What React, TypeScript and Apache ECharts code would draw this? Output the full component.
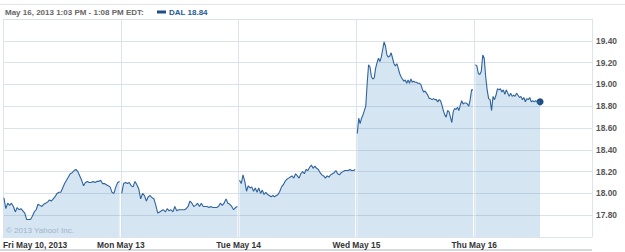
import React, { useEffect, useRef } from "react";
import * as echarts from "echarts";

// Trading minutes per day (9:30 - 16:00)
const DAY_MINUTES = 390;
const dayLabels = ["Fri May 10, 2013", "Mon May 13", "Tue May 14", "Wed May 15", "Thu May 16"];
const yTicks = ["17.80", "18.00", "18.20", "18.40", "18.60", "18.80", "19.00", "19.20", "19.40"];
const headerText = "May 16, 2013 1:03 PM - 1:08 PM EDT:";
const legendText = "DAL 18.84";
const watermark = "\u00a9 2013 Yahoo! Inc.";

// Minute of the day at which each day's trace starts / ends
const dayStartMin = [3, 3, 3, 3, 4];
const dayEndMin = [386, 386, 386, 386, 218];

const fri = [17.96, 17.86, 17.91, 17.89, 17.91, 17.88, 17.83, 17.87, 17.85, 17.86, 17.84, 17.82, 17.76, 17.76, 17.76, 17.79, 17.83, 17.85, 17.90, 17.89, 17.88, 17.90, 17.91, 17.92, 17.94, 17.93, 17.95, 17.97, 18.00, 18.01, 18.01, 18.05, 18.09, 18.12, 18.15, 18.18, 18.19, 18.21, 18.22, 18.20, 18.16, 18.12, 18.07, 18.10, 18.11, 18.10, 18.10, 18.11, 18.10, 18.11, 18.11, 18.12, 18.09, 18.09, 18.08, 18.07, 18.06, 18.01, 18.00, 18.06, 18.10, 18.11];
const mon = [18.00, 18.09, 18.10, 18.09, 18.10, 18.07, 18.06, 18.11, 18.08, 18.04, 17.95, 18.00, 17.98, 17.93, 17.97, 17.98, 17.96, 17.95, 17.89, 17.82, 17.83, 17.84, 17.85, 17.83, 17.86, 17.84, 17.85, 17.83, 17.88, 17.84, 17.85, 17.85, 17.85, 17.85, 17.86, 17.88, 17.93, 17.91, 17.88, 17.89, 17.91, 17.88, 17.91, 17.88, 17.88, 17.88, 17.87, 17.88, 17.87, 17.87, 17.87, 17.88, 17.91, 17.89, 17.91, 17.95, 17.91, 17.90, 17.88, 17.85, 17.87, 17.88];
const tue = [18.12, 18.09, 18.17, 18.11, 18.02, 18.07, 18.05, 18.06, 18.02, 18.05, 18.01, 18.05, 18.00, 18.03, 17.99, 18.01, 17.99, 17.98, 17.97, 17.98, 17.97, 17.98, 17.99, 18.02, 18.06, 18.08, 18.11, 18.13, 18.14, 18.15, 18.16, 18.14, 18.18, 18.16, 18.14, 18.18, 18.20, 18.18, 18.22, 18.21, 18.24, 18.26, 18.23, 18.25, 18.23, 18.22, 18.19, 18.17, 18.16, 18.14, 18.16, 18.15, 18.17, 18.18, 18.19, 18.21, 18.18, 18.17, 18.19, 18.20, 18.21, 18.21, 18.21, 18.22, 18.21, 18.21, 18.22];
const wed = [18.55, 18.69, 18.64, 18.69, 18.72, 18.76, 18.80, 19.01, 19.18, 19.16, 19.07, 19.05, 19.06, 19.15, 19.20, 19.24, 19.21, 19.25, 19.32, 19.39, 19.35, 19.27, 19.25, 19.26, 19.29, 19.24, 19.19, 19.17, 19.19, 19.15, 19.10, 19.07, 19.05, 19.03, 19.04, 19.01, 19.04, 19.01, 19.05, 19.02, 19.03, 19.02, 19.02, 19.01, 19.01, 19.00, 18.96, 18.93, 18.94, 18.92, 18.90, 18.87, 18.87, 18.86, 18.87, 18.86, 18.86, 18.84, 18.86, 18.85, 18.81, 18.76, 18.72, 18.70, 18.76, 18.75, 18.70, 18.65, 18.75, 18.78, 18.77, 18.79, 18.76, 18.81, 18.85, 18.82, 18.83, 18.83, 18.82, 18.80, 18.86, 18.95, 18.95];
const thu = [19.18, 19.17, 19.10, 19.09, 19.12, 19.27, 19.24, 19.07, 18.95, 18.87, 18.86, 18.76, 18.89, 18.86, 18.90, 18.96, 18.95, 18.96, 18.93, 18.95, 18.91, 18.95, 18.92, 18.89, 18.92, 18.89, 18.90, 18.89, 18.92, 18.90, 18.88, 18.89, 18.86, 18.88, 18.84, 18.87, 18.86, 18.88, 18.84, 18.85, 18.84, 18.85, 18.84, 18.84, 18.84];
const days = [fri, mon, tue, wed, thu];

const LINE = "#2f639c";
const FONT = "Liberation Sans";

export default function App() {
  const ref = useRef<HTMLDivElement>(null);
  useEffect(() => {
    if (!ref.current) return;
    const chart = echarts.init(ref.current, null, { renderer: "svg" });
    const seriesData = days.map((arr, d) => {
      const s = dayStartMin[d];
      const e = dayEndMin[d];
      return arr.map((v, i) => [d * DAY_MINUTES + s + (i * (e - s)) / (arr.length - 1), v]);
    });
    const last = seriesData[4][seriesData[4].length - 1];
    const series: any[] = seriesData.map((data) => ({
      type: "line",
      data,
      showSymbol: false,
      symbol: "none",
      lineStyle: { color: LINE, width: 1.1 },
      areaStyle: { origin: "start", color: "rgba(60,130,195,0.21)", opacity: 1 },
      silent: true,
    }));
    series.push({
      type: "scatter",
      data: [last],
      symbolSize: 7,
      itemStyle: { color: "#1d4d82", opacity: 1 },
      silent: true,
    });
    chart.setOption({
      animation: false,
      grid: { left: 3, top: 19, width: 589, height: 218, containLabel: false },
      xAxis: {
        type: "value",
        min: 0,
        max: DAY_MINUTES * 5,
        interval: DAY_MINUTES,
        axisLine: { show: true, lineStyle: { color: "#dde4eb" } },
        axisTick: { show: false },
        splitLine: { show: true, lineStyle: { color: "#dde5ec", width: 1 } },
        axisLabel: {
          margin: 4,
          fontFamily: FONT,
          fontSize: 8.4,
          fontWeight: "bold",
          color: "#333",
          alignMinLabel: "left",
          showMaxLabel: false,
          formatter: (v: number) => dayLabels[Math.round(v / DAY_MINUTES)] ?? "",
        },
      },
      yAxis: {
        type: "value",
        position: "right",
        min: 17.6,
        max: 19.6,
        interval: 0.2,
        axisLine: { show: true, lineStyle: { color: "#dde4eb" } },
        axisTick: { show: false },
        splitLine: { show: true, lineStyle: { color: "#dbe3ea", width: 1 } },
        axisLabel: {
          margin: 4,
          fontFamily: FONT,
          fontSize: 8.4,
          fontWeight: "bold",
          color: "#555",
          formatter: (v: number) => {
            const t = v.toFixed(2);
            return yTicks.includes(t) ? t : "";
          },
        },
      },
      series,
      graphic: [
        { type: "line", shape: { x1: 0, y1: 4.5, x2: 625, y2: 4.5 }, style: { stroke: "#e2e6ea", lineWidth: 1 }, silent: true },
        { type: "line", shape: { x1: 0, y1: 250, x2: 592, y2: 250 }, style: { stroke: "#d6dadd", lineWidth: 2 }, silent: true },
        {
          type: "text",
          x: 5,
          y: 12,
          style: { text: headerText, fill: "#666", font: `bold 8px '${FONT}'`, textVerticalAlign: "middle" },
          silent: true,
        },
        { type: "rect", shape: { x: 157, y: 10.5, width: 9, height: 3 }, style: { fill: "#1f4f88" }, silent: true },
        {
          type: "text",
          x: 169,
          y: 12,
          style: { text: legendText, fill: "#1f5a96", font: `bold 8px '${FONT}'`, textVerticalAlign: "middle" },
          silent: true,
        },
        {
          type: "text",
          x: 6,
          y: 230,
          style: { text: watermark, fill: "#b7c3ce", font: `8px '${FONT}'`, textVerticalAlign: "middle" },
          silent: true,
        },
      ],
    });
    return () => chart.dispose();
  }, []);
  return <div ref={ref} style={{ position: "fixed", left: 0, top: 0, width: 625, height: 252, background: "#fff" }} />;
}
